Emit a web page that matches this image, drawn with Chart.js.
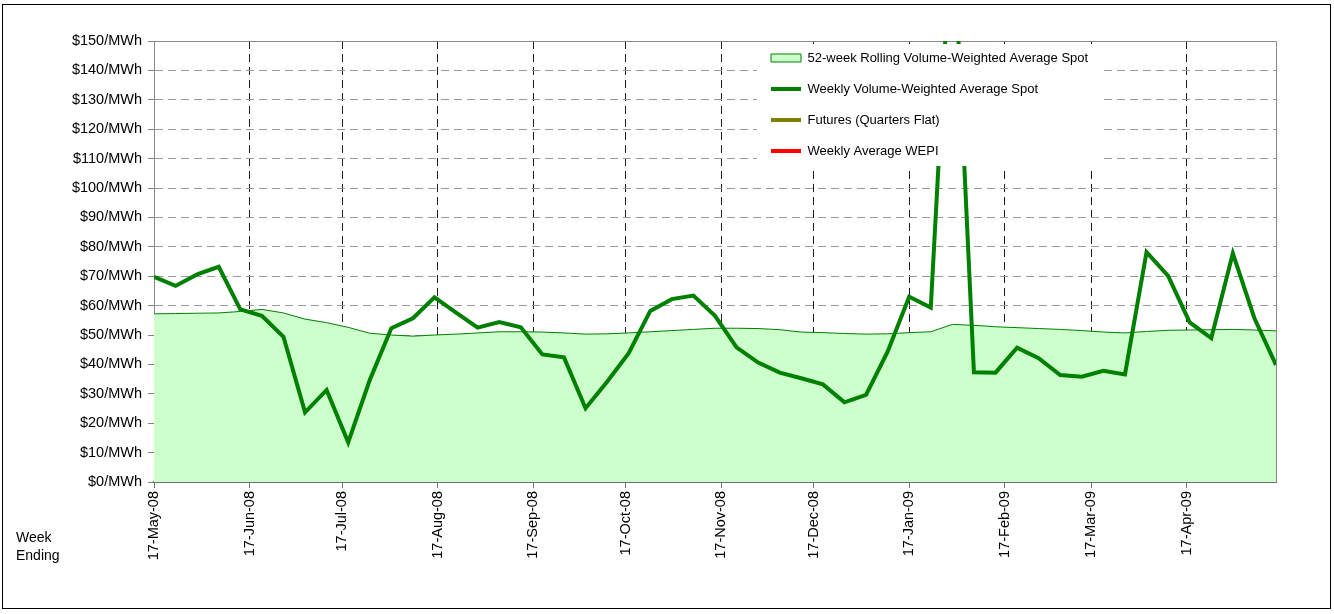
<!DOCTYPE html>
<html>
<head>
<meta charset="utf-8">
<script src="https://cdn.jsdelivr.net/npm/chart.js@4/dist/chart.umd.min.js"></script>
<style>
html, body { margin: 0; padding: 0; background: #fff; }
canvas { display: block; }
</style>
</head>
<body>
<canvas id="c" width="1334" height="614"></canvas>
<script>
// ---- Data ----
const weekEnding = [
  '2008-05-17','2008-05-24','2008-05-31','2008-06-07','2008-06-14','2008-06-21','2008-06-28',
  '2008-07-05','2008-07-12','2008-07-19','2008-07-26','2008-08-02','2008-08-09','2008-08-16',
  '2008-08-23','2008-08-30','2008-09-06','2008-09-13','2008-09-20','2008-09-27','2008-10-04',
  '2008-10-11','2008-10-18','2008-10-25','2008-11-01','2008-11-08','2008-11-15','2008-11-22',
  '2008-11-29','2008-12-06','2008-12-13','2008-12-20','2008-12-27','2009-01-03','2009-01-10',
  '2009-01-17','2009-01-24','2009-01-31','2009-02-07','2009-02-14','2009-02-21','2009-02-28',
  '2009-03-07','2009-03-14','2009-03-21','2009-03-28','2009-04-04','2009-04-11','2009-04-18',
  '2009-04-25','2009-05-02','2009-05-09','2009-05-16'
];
const rollingAvg52w = [
  57.2, 57.3, 57.4, 57.5, 58.0, 58.7, 57.5, 55.4, 54.2, 52.6,
  50.6, 50.0, 49.6, 50.0, 50.3, 50.7, 51.1, 51.1, 51.0, 50.7,
  50.3, 50.4, 50.7, 51.1, 51.5, 51.9, 52.3, 52.3, 52.2, 51.8,
  51.0, 50.8, 50.5, 50.3, 50.4, 50.8, 51.1, 53.6, 53.3, 52.8,
  52.5, 52.2, 51.9, 51.5, 51.0, 50.7, 51.2, 51.6, 51.7, 51.8,
  51.9, 51.7, 51.4
];
const weeklySpot = [
  69.8, 66.7, 70.6, 73.2, 58.7, 56.5, 49.4, 23.7, 31.3, 13.5,
  34.7, 52.3, 55.7, 62.8, 57.6, 52.5, 54.4, 52.6, 43.4, 42.4,
  25.1, 34.1, 43.8, 58.2, 62.2, 63.4, 56.5, 45.8, 40.6, 37.2,
  35.3, 33.2, 27.1, 29.6, 44.3, 63.0, 59.3, 195.0, 37.3, 37.2,
  45.7, 42.1, 36.4, 35.8, 37.8, 36.6, 78.2, 70.1, 54.3, 48.9,
  77.8, 55.7, 39.8
];
const futuresQuartersFlat = [];
const weeklyAverageWEPI = [];

const tickDates = [
  '2008-05-17','2008-06-17','2008-07-17','2008-08-17','2008-09-17','2008-10-17',
  '2008-11-17','2008-12-17','2009-01-17','2009-02-17','2009-03-17','2009-04-17'
];
const tickLabels = [
  '17-May-08','17-Jun-08','17-Jul-08','17-Aug-08','17-Sep-08','17-Oct-08',
  '17-Nov-08','17-Dec-08','17-Jan-09','17-Feb-09','17-Mar-09','17-Apr-09'
];
const seriesLabels = [
  '52-week Rolling Volume-Weighted Average Spot',
  'Weekly Volume-Weighted Average Spot',
  'Futures (Quarters Flat)',
  'Weekly Average WEPI'
];
const yMin = 0, yMax = 150, yStep = 10;

// ---- Helpers ----
const DAY = 86400000;
const t0 = Date.parse(weekEnding[0]);
const dayOf = d => Math.round((Date.parse(d) - t0) / DAY);
const xs = weekEnding.map(dayOf);
const tickDays = tickDates.map(dayOf);
const pts = arr => arr.map((v, i) => ({ x: xs[i], y: v }));

const FONT = "'Liberation Sans', Arial, Helvetica, sans-serif";
Chart.defaults.font.family = FONT;
Chart.defaults.color = '#000';

const pageDecor = {
  id: 'pageDecor',
  beforeDraw(chart) {
    const c = chart.ctx;
    c.save();
    c.fillStyle = '#fff';
    c.fillRect(0, 0, chart.width, chart.height);
    c.strokeStyle = '#000';
    c.lineWidth = 1;
    c.strokeRect(2.5, 4.5, 1328, 604);
    c.restore();
  },
  beforeDatasetsDraw(chart) {
    const a = chart.chartArea, c = chart.ctx;
    c.save();
    c.strokeStyle = '#8a8a8a';
    c.lineWidth = 1;
    c.beginPath();
    c.moveTo(a.left, a.top + 0.5);
    c.lineTo(a.right + 0.5, a.top + 0.5);
    c.lineTo(a.right + 0.5, a.bottom);
    c.stroke();
    c.restore();
  },
  afterDraw(chart) {
    const c = chart.ctx;
    c.save();
    c.fillStyle = '#000';
    c.font = '14px ' + FONT;
    c.textAlign = 'left';
    c.textBaseline = 'alphabetic';
    c.fillText('Week', 16, 542);
    c.fillText('Ending', 16, 560);
    c.restore();
  }
};

// Place the library legend inside the plot, over a white panel, above the data
const legendPlacer = {
  id: 'legendPlacer',
  beforeLayout(chart) {
    const lg = chart.legend;
    if (!lg) return;
    lg._layers = () => [{
      z: 5,
      draw(ca) {
        const c = chart.ctx;
        c.save();
        c.fillStyle = '#fff';
        c.fillRect(757, 44, 347, 122);
        c.restore();
        lg.draw(ca);
      }
    }];
  },
  afterLayout(chart) {
    const lg = chart.legend;
    if (!lg) return;
    lg.left = 753;
    lg.top = 33.5;
    lg.right = 753 + Math.max(lg.width, 360);
    lg.bottom = 33.5 + 200;
  }
};

new Chart(document.getElementById('c'), {
  type: 'line',
  data: {
    datasets: [
      {
        label: seriesLabels[0],
        data: pts(rollingAvg52w),
        borderColor: '#008000',
        backgroundColor: '#CCFFCC',
        borderWidth: 1,
        fill: 'origin',
        pointRadius: 0,
        pointHoverRadius: 0,
        tension: 0,
        order: 2
      },
      {
        label: seriesLabels[1],
        data: pts(weeklySpot),
        borderColor: '#008000',
        backgroundColor: '#008000',
        borderWidth: 4,
        borderJoinStyle: 'miter',
        fill: false,
        pointRadius: 0,
        pointHoverRadius: 0,
        tension: 0,
        clip: 0,
        order: 1
      },
      {
        label: seriesLabels[2],
        data: pts(futuresQuartersFlat),
        borderColor: '#808000',
        backgroundColor: '#808000',
        borderWidth: 4,
        fill: false,
        pointRadius: 0,
        order: 0
      },
      {
        label: seriesLabels[3],
        data: pts(weeklyAverageWEPI),
        borderColor: '#FF0000',
        backgroundColor: '#FF0000',
        borderWidth: 4,
        fill: false,
        pointRadius: 0,
        order: 0
      }
    ]
  },
  options: {
    responsive: false,
    animation: false,
    devicePixelRatio: 1,
    events: [],
    layout: { padding: { left: 10, top: 41, right: 58, bottom: 0 } },
    plugins: {
      tooltip: { enabled: false },
      legend: {
        position: 'chartArea',
        align: 'start',
        labels: {
          font: { size: 13, family: FONT },
          color: '#000',
          usePointStyle: true,
          pointStyleWidth: 30,
          boxWidth: 30,
          boxHeight: 8,
          padding: 18,
          textAlign: 'left',
          generateLabels(chart) {
            return chart.data.datasets.map((ds, i) => ({
              text: ds.label,
              datasetIndex: i,
              hidden: false,
              fontColor: '#000',
              pointStyle: i === 0 ? 'rect' : 'line',
              fillStyle: ds.backgroundColor,
              strokeStyle: ds.borderColor,
              lineWidth: i === 0 ? 1 : 4,
              lineCap: 'butt',
              lineDash: [],
              rotation: 0
            }));
          }
        }
      }
    },
    scales: {
      x: {
        type: 'linear',
        min: xs[0],
        max: xs[xs.length - 1],
        afterBuildTicks(s) { s.ticks = tickDays.map(v => ({ value: v })); },
        afterFit(s) { s.height = 132; },
        ticks: {
          autoSkip: false,
          minRotation: 90,
          maxRotation: 90,
          padding: 3,
          color: '#000',
          font: { size: 14.5, family: FONT },
          callback: (v) => tickLabels[tickDays.indexOf(v)]
        },
        grid: {
          color: (c) => (c.tick && c.tick.value === 0) ? 'rgba(0,0,0,0)' : '#1a1a1a',
          lineWidth: 1,
          drawTicks: true,
          tickLength: 6,
          tickColor: '#707070',
          tickWidth: 1
        },
        border: { display: true, color: '#707070', width: 2, dash: [8, 5] }
      },
      y: {
        min: yMin,
        max: yMax,
        afterFit(s) { s.width = 144; },
        ticks: {
          stepSize: yStep,
          padding: 6,
          color: '#000',
          font: { size: 14.5, family: FONT },
          callback: (v) => '$' + v + '/MWh'
        },
        grid: {
          color: '#9a9a9a',
          lineWidth: 1,
          drawTicks: true,
          tickLength: 6,
          tickColor: '#808080',
          tickWidth: 1
        },
        border: { display: true, color: '#8a8a8a', width: 1, dash: [8, 5] }
      }
    }
  },
  plugins: [pageDecor, legendPlacer]
});
</script>
</body>
</html>
